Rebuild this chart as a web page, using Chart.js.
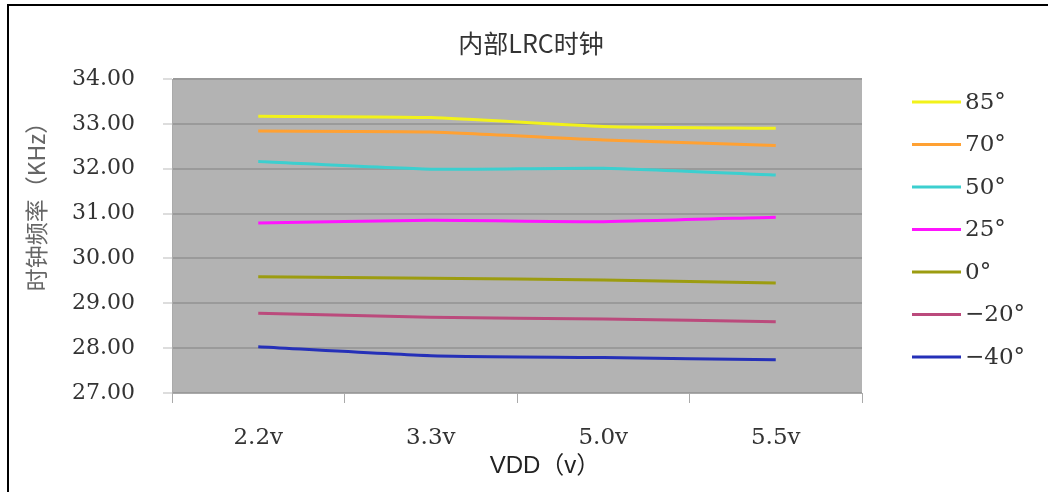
<!DOCTYPE html>
<html lang="zh">
<head>
  <meta charset="UTF-8">
  <title>内部LRC时钟</title>
  <script src="https://cdn.jsdelivr.net/npm/chart.js"></script>
  <style>
    html, body { margin: 0; padding: 0; background: #fff; }
    #wrap { width: 1048px; height: 492px; }
  </style>
</head>
<body>
  <div id="wrap"><canvas id="lrc-chart" width="1048" height="492"></canvas></div>

  <script>
    // tensions d'alimentation
    var vdd = ['2.2v', '3.3v', '5.0v', '5.5v'];
    var yTicks = [27, 28, 29, 30, 31, 32, 33, 34];

    // fréquence (KHz) par température
    var t85 = [33.17, 33.14, 32.94, 32.90];
    var t70 = [32.84, 32.82, 32.64, 32.52];
    var t50 = [32.16, 31.99, 32.01, 31.86];
    var t25 = [30.79, 30.85, 30.82, 30.92];
    var t0 = [29.59, 29.56, 29.52, 29.45];
    var tm20 = [28.78, 28.69, 28.65, 28.59];
    var tm40 = [28.03, 27.83, 27.79, 27.74];

    var labels = ['85°', '70°', '50°', '25°', '0°', '−20°', '−40°'];
    var series = [t85, t70, t50, t25, t0, tm20, tm40];
    var colors = ['#f2f21a', '#ffa133', '#3ccfcf', '#ff14ff', '#9c9c10', '#bb4a7c', '#2530b8'];

    var datasets = [];
    for (let i = 0; i < series.length; i++) {
      datasets.push({
        label: labels[i],
        data: series[i],
        borderColor: colors[i],
        backgroundColor: colors[i],
        borderWidth: 3,
        pointRadius: 0,
        tension: 0.2,
        fill: false
      });
    }

    // fond gris, cadre, titres et légende
    const decor = {
      id: 'decor',
      beforeDraw(chart) {
        const ctx = chart.ctx;
        const a = chart.chartArea;
        ctx.save();
        ctx.fillStyle = '#b3b3b3';
        ctx.fillRect(a.left, a.top, a.right - a.left, a.bottom - a.top);
        ctx.fillStyle = '#000';
        ctx.fillRect(7, 4, 1041, 2);
        ctx.fillRect(7, 4, 2, 488);
        ctx.restore();
      },
      afterDraw(chart) {
        const ctx = chart.ctx;
        ctx.save();
        ctx.textAlign = 'center';
        ctx.textBaseline = 'middle';
        // titre
        ctx.fillStyle = '#333';
        ctx.font = '25px "Noto Sans CJK SC", "Liberation Sans", sans-serif';
        ctx.fillText('内部LRC时钟', 531, 43);
        // axe x
        ctx.fillStyle = '#222';
        ctx.font = '24px "Liberation Sans", "Noto Sans CJK SC", sans-serif';
        ctx.fillText('VDD（v）', 545, 466);
        // axe y
        ctx.translate(36, 201);
        ctx.rotate(-Math.PI / 2);
        ctx.fillStyle = '#666';
        ctx.font = '23px "Noto Sans CJK SC", "Liberation Sans", sans-serif';
        ctx.fillText('时钟频率（KHz）', 0, 0);
        ctx.restore();

        // légende
        ctx.save();
        ctx.font = '23px "DejaVu Serif", serif';
        ctx.textBaseline = 'middle';
        ctx.textAlign = 'left';
        chart.data.datasets.forEach(function (ds, i) {
          let y = 102 + i * 42.5;
          ctx.strokeStyle = ds.borderColor;
          ctx.lineWidth = 3;
          ctx.beginPath();
          ctx.moveTo(912, y);
          ctx.lineTo(961, y);
          ctx.stroke();
          ctx.fillStyle = '#333';
          ctx.fillText(ds.label, 965, y + 1);
        });
        ctx.restore();
      }
    };

    const chart = new Chart(document.getElementById('lrc-chart').getContext('2d'), {
      type: 'line',
      data: { labels: vdd, datasets: datasets },
      plugins: [decor],
      options: {
        responsive: false,
        animation: false,
        layout: { padding: { left: 0, right: 186, top: 79, bottom: 0 } },
        plugins: {
          legend: { display: false },
          tooltip: { enabled: false },
          title: { display: false }
        },
        scales: {
          x: {
            offset: true,
            afterFit: function (s) { s.height = 99; },
            grid: { offset: true, drawOnChartArea: false, drawTicks: true, tickLength: 10, color: '#aaa' },
            border: { color: '#aaa', width: 1 },
            ticks: {
              padding: 21,
              color: '#333',
              font: { family: '"DejaVu Serif", serif', size: 23 }
            }
          },
          y: {
            min: 27,
            max: 34,
            afterFit: function (s) { s.width = 172; },
            afterBuildTicks: function (s) { s.ticks = yTicks.map(v => ({ value: v })); },
            grid: { color: '#9a9a9a', lineWidth: 2, tickLength: 9, tickColor: '#bbb', tickWidth: 1 },
            border: { color: '#aaa', width: 1 },
            ticks: {
              padding: 28,
              color: '#333',
              font: { family: '"DejaVu Serif", serif', size: 22 },
              callback: function (v) { return Number(v).toFixed(2); }
            }
          }
        }
      }
    });
  </script>
</body>
</html>
